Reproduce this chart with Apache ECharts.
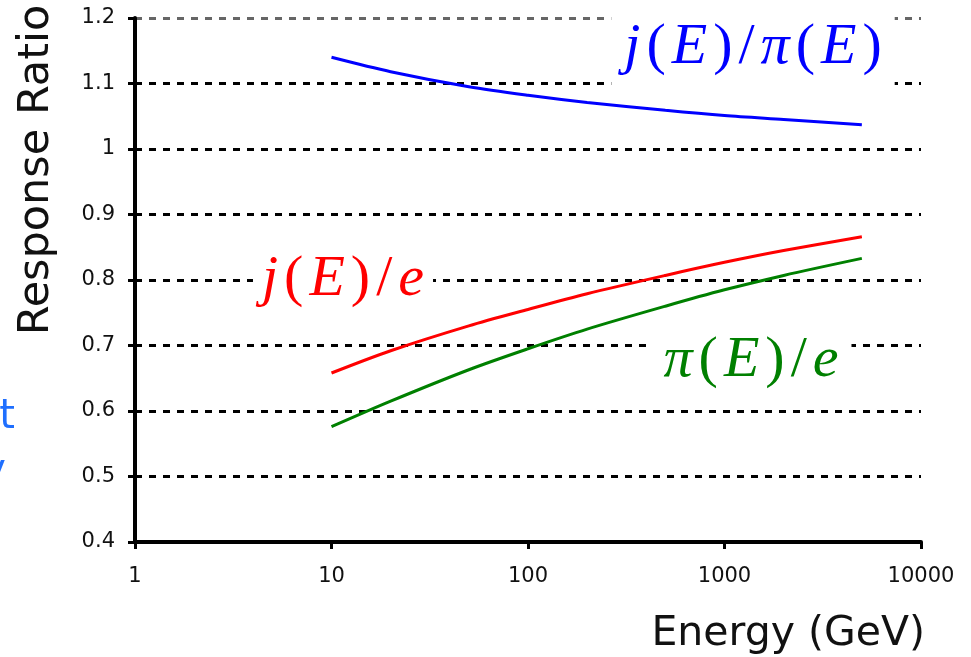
<!DOCTYPE html>
<html>
<head>
<meta charset="utf-8">
<script src="https://cdn.jsdelivr.net/npm/echarts@6/dist/echarts.min.js"></script>
<style>
html,body{margin:0;padding:0;background:#fff;}
#chart{width:971px;height:657px;}
</style>
</head>
<body>
<div id="chart"></div>
<script>
// Energy samples (GeV)
const energy = [10, 20, 50, 100, 200, 500, 1000, 2000, 5000];
// j(E)/pi(E)
const jetOverPion = [1.140, 1.118, 1.095, 1.082, 1.071, 1.059, 1.051, 1.045, 1.037];
// j(E)/e
const jetOverE = [0.658, 0.692, 0.730, 0.755, 0.779, 0.807, 0.827, 0.845, 0.866];
// pi(E)/e
const pionOverE = [0.576, 0.615, 0.663, 0.695, 0.725, 0.760, 0.785, 0.807, 0.833];

const xTickLabels = ['1', '10', '100', '1000', '10000'];
const yMin = 0.4, yMax = 1.2, yStep = 0.1;
const xAxisTitle = 'Energy (GeV)';
const yAxisTitle = 'Response Ratio';

const chart = echarts.init(document.getElementById('chart'), null, {renderer: 'canvas'});

const serif = "'Liberation Serif', 'Times New Roman', serif";
function mathLabel(tokens, color) {
  const rich = {
    i: {fontFamily: serif, fontSize: 58, fontStyle: 'italic', fill: color, padding: [0, 3], lineHeight: 64},
    n: {fontFamily: serif, fontSize: 58, fontStyle: 'normal', fill: color, padding: [0, 3], lineHeight: 64}
  };
  const text = tokens.map(t => '{' + (t[1] ? 'i' : 'n') + '|' + t[0] + '}').join('');
  return {text, rich};
}

const lbBlue = mathLabel([['j',1],['(',0],['E',1],[')',0],['/',0],['π',1],['(',0],['E',1],[')',0]], '#0000ff');
const lbRed = mathLabel([['j',1],['(',0],['E',1],[')',0],['/',0],['e',1]], '#ff0000');
const lbGreen = mathLabel([['π',1],['(',0],['E',1],[')',0],['/',0],['e',1]], '#008000');

const mk = (vals) => energy.map((e, i) => [e, vals[i]]);

const gridColors = ['#000','#000','#000','#000','#000','#000','#000','#000','#666'];
const sansFont = "'DejaVu Sans', Verdana, sans-serif";

chart.setOption({
  animation: false,
  backgroundColor: '#fff',
  grid: {left: 135, right: 50, top: 18, bottom: 115, containLabel: false},
  xAxis: {
    type: 'log',
    logBase: 10,
    min: 1,
    max: 10000,
    axisLine: {show: true, lineStyle: {color: '#000', width: 4}},
    axisTick: {show: true, length: 7, lineStyle: {color: '#000', width: 3}},
    minorTick: {show: false},
    splitLine: {show: false},
    axisLabel: {
      margin: 24,
      color: '#111',
      fontFamily: sansFont,
      fontSize: 21,
      formatter: function (v) {
        const k = Math.round(Math.log10(v));
        return xTickLabels[k] !== undefined ? xTickLabels[k] : String(Math.round(v));
      }
    }
  },
  yAxis: {
    type: 'value',
    min: yMin,
    max: yMax,
    interval: yStep,
    axisLine: {show: true, lineStyle: {color: '#000', width: 4}},
    axisTick: {show: true, length: 7, lineStyle: {color: '#000', width: 3}},
    splitLine: {show: true, lineStyle: {color: gridColors, width: 3, type: [7, 7]}},
    axisLabel: {
      margin: 20,
      color: '#111',
      fontFamily: sansFont,
      fontSize: 21,
      formatter: v => String(+v.toFixed(1))
    }
  },
  series: [
    {type: 'line', data: mk(jetOverPion), showSymbol: false, smooth: 0.3, lineStyle: {color: '#0000ff', width: 3}, itemStyle: {color: '#0000ff'}, z: 3},
    {type: 'line', data: mk(jetOverE), showSymbol: false, smooth: 0.3, lineStyle: {color: '#ff0000', width: 3}, itemStyle: {color: '#ff0000'}, z: 3},
    {type: 'line', data: mk(pionOverE), showSymbol: false, smooth: 0.3, lineStyle: {color: '#008000', width: 3}, itemStyle: {color: '#008000'}, z: 3}
  ],
  graphic: [
    {type: 'text', x: 925, y: 634, z: 100,
      style: {text: xAxisTitle, fill: '#111', font: '41px ' + sansFont, align: 'right', verticalAlign: 'middle'}},
    {type: 'text', x: 37, y: 170, rotation: Math.PI / 2, z: 100,
      style: {text: yAxisTitle, fill: '#111', font: '43px ' + sansFont, align: 'center', verticalAlign: 'middle'}},
    {type: 'text', x: 753, y: 48, z: 100,
      style: Object.assign({align: 'center', verticalAlign: 'middle', backgroundColor: '#fff', padding: [7, 10]}, lbBlue)},
    {type: 'text', x: 343, y: 280, z: 100,
      style: Object.assign({align: 'center', verticalAlign: 'middle', backgroundColor: '#fff', padding: [2, 6]}, lbRed)},
    {type: 'text', x: 751, y: 361, z: 100,
      style: Object.assign({align: 'center', verticalAlign: 'middle', backgroundColor: '#fff', padding: [2, 10]}, lbGreen)},
    {type: 'text', x: 15, y: 418, z: 100,
      style: {text: 't', fill: '#1f6fff', font: '40px ' + sansFont, align: 'right', verticalAlign: 'middle', shadowBlur: 3, shadowColor: 'rgba(0,0,0,0.25)', shadowOffsetX: 1, shadowOffsetY: 1}},
    {type: 'text', x: 6, y: 472, z: 100,
      style: {text: 'y', fill: '#1f6fff', font: '40px ' + sansFont, align: 'right', verticalAlign: 'middle', shadowBlur: 3, shadowColor: 'rgba(0,0,0,0.25)', shadowOffsetX: 1, shadowOffsetY: 1}}
  ]
});
</script>
</body>
</html>
